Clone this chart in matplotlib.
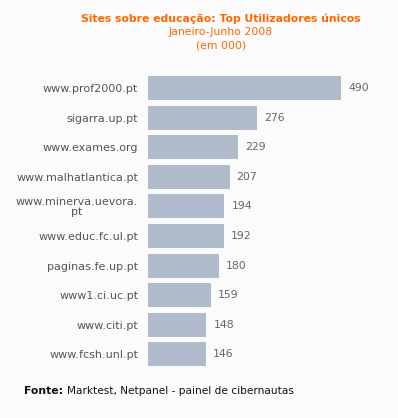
import matplotlib.pyplot as plt

sites = ["www.prof2000.pt", "sigarra.up.pt", "www.exames.org", "www.malhatlantica.pt",
         "www.minerva.uevora.\npt", "www.educ.fc.ul.pt", "paginas.fe.up.pt",
         "www1.ci.uc.pt", "www.citi.pt", "www.fcsh.unl.pt"]
users = [490, 276, 229, 207, 194, 192, 180, 159, 148, 146]

bg = "#fbfbfb"
fig = plt.figure(figsize=(3.98, 4.18), dpi=100, facecolor=bg)
ax = fig.add_axes([148 / 398, 1 - 369.2 / 418, 250 / 398, 296 / 418])
ax.set_facecolor(bg)

pos = list(range(len(sites)))
ax.barh(pos, users, height=0.81, color="#b0bccc")
ax.set_ylim(len(sites) - 0.5, -0.5)
ax.set_xlim(0, 634.5)

for p, v in zip(pos, users):
    ax.text(v + 18, p, str(v), va="center", ha="left", fontsize=7.8, color="#666666")

ax.set_yticks(pos)
ax.set_yticklabels(sites, fontsize=8, color="#555555", linespacing=1.0,
                   multialignment="center")
ax.tick_params(axis="y", length=0, pad=7)
ax.set_xticks([])
for s in ax.spines.values():
    s.set_visible(False)

fig.text(221 / 398, 1 - 19 / 418, "Sites sobre educação: Top Utilizadores únicos",
         ha="center", va="center", fontsize=7.8, fontweight="bold", color="#ff6600")
fig.text(221 / 398, 1 - 32 / 418, "Janeiro-Junho 2008", ha="center", va="center",
         fontsize=7.8, color="#ff6600")
fig.text(221 / 398, 1 - 45 / 418, "(em 000)", ha="center", va="center",
         fontsize=7.8, color="#ff6600")

fig.text(24 / 398, 1 - 391 / 418, "Fonte:", ha="left", va="center",
         fontsize=7.8, fontweight="bold", color="#111111")
fig.text(67 / 398, 1 - 391 / 418, "Marktest, Netpanel - painel de cibernautas",
         ha="left", va="center", fontsize=7.6, color="#111111")

fig.savefig("out.png", dpi=100, facecolor=bg)
